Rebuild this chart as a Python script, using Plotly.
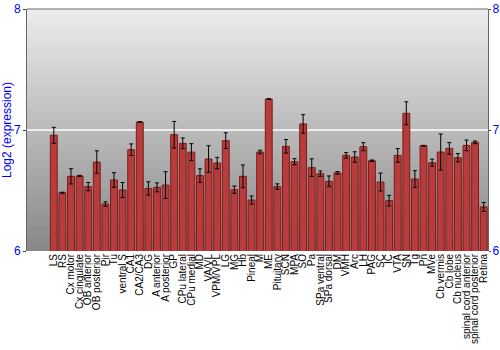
import plotly.graph_objects as go

categories = ["LS", "RS", "Cx motor", "Cx cingulate", "OB anterior", "OB posterior", "Pir", "Tu",
              "ventral S", "CA1", "CA2/CA3", "DG", "A anterior", "A posterior", "GP", "CPu lateral",
              "CPu medial", "MD", "VA/VL", "VPM/VPL", "LG", "MG", "Hb", "Pineal", "M", "ME",
              "Pituitary", "SCN", "MPA", "SO", "Pa", "SPa ventral", "SPa dorsal", "DM", "VMH", "Arc",
              "LH", "PAG", "SC", "IC", "VTA", "SN", "Tg", "Pn", "MVe", "Cb vermis", "Cb lobe",
              "Cb nucleus", "spinal cord anterior", "spinal cord posterior", "Retina"]

values = [6.956, 6.482, 6.617, 6.620, 6.532, 6.735, 6.388, 6.587,
          6.504, 6.837, 7.066, 6.517, 6.526, 6.545, 6.961, 6.890,
          6.817, 6.623, 6.760, 6.727, 6.912, 6.507, 6.617, 6.421, 6.818, 7.256,
          6.532, 6.865, 6.738, 7.050, 6.689, 6.639, 6.576, 6.646, 6.790, 6.777,
          6.862, 6.746, 6.570, 6.416, 6.790, 7.138, 6.595, 6.870, 6.730, 6.818, 6.848,
          6.771, 6.873, 6.898, 6.364]

errors = [0.066, 0.004, 0.063, 0.005, 0.034, 0.093, 0.018, 0.060,
          0.062, 0.048, 0.003, 0.055, 0.037, 0.110, 0.110, 0.044,
          0.070, 0.056, 0.110, 0.047, 0.065, 0.030, 0.094, 0.034, 0.015, 0.003,
          0.023, 0.056, 0.025, 0.077, 0.073, 0.022, 0.044, 0.011, 0.023, 0.043,
          0.033, 0.006, 0.074, 0.044, 0.056, 0.095, 0.069, 0.003, 0.029, 0.149, 0.048,
          0.034, 0.044, 0.011, 0.037]

y_ticks = [6, 7, 8]
y_range = [6, 8]

fig = go.Figure()
fig.add_trace(go.Bar(
    x=categories, y=values,
    marker=dict(color="#b83c3c", line=dict(color="#7a1c1c", width=1)),
    error_y=dict(type="data", array=errors, color="black", thickness=1, width=2),
    showlegend=False, hoverinfo="skip",
))
# invisible trace for right axis labels
fig.add_trace(go.Scatter(x=categories[:1], y=[None], yaxis="y2", showlegend=False,
                         hoverinfo="skip", mode="markers"))

# gradient background bands
n = 120
shapes = []
top = (236, 236, 236)
bot = (136, 136, 136)
for i in range(n):
    t = i / (n - 1)
    c = tuple(int(round(top[k] + (bot[k] - top[k]) * t)) for k in range(3))
    shapes.append(dict(type="rect", xref="x domain", yref="y domain",
                       x0=0, x1=1, y0=max(0, 1 - (i + 1.6) / n), y1=1 - i / n,
                       fillcolor="rgb(%d,%d,%d)" % c, line=dict(width=0), layer="below"))
# white gridline at 7
shapes.append(dict(type="line", xref="x domain", yref="y", x0=0, x1=1, y0=7, y1=7,
                   line=dict(color="white", width=1.5), layer="below"))
# top border
shapes.append(dict(type="line", xref="x domain", yref="y domain", x0=0, x1=1, y0=1, y1=1,
                   line=dict(color="#666666", width=1)))

fig.update_layout(
    width=500, height=350,
    margin=dict(l=27, r=12, t=9, b=99),
    paper_bgcolor="white", plot_bgcolor="white",
    bargap=0.2,
    shapes=shapes,
    font=dict(family="Liberation Sans, Arial, sans-serif", size=10, color="black"),
    xaxis=dict(tickangle=-90, showgrid=False, ticks="", showline=False,
               tickmode="array", tickvals=categories, ticktext=categories,
               tickfont=dict(size=10, color="black"), automargin=False),
    yaxis=dict(range=y_range, tickvals=y_ticks, ticks="outside", ticklen=3,
               tickcolor="#444444", showline=True, linecolor="#666666",
               showgrid=False, zeroline=False,
               tickfont=dict(size=12, color="blue"),
               title=dict(text="Log2 (expression)", font=dict(size=12, color="blue"), standoff=2),
               automargin=False),
    yaxis2=dict(range=y_range, tickvals=y_ticks, overlaying="y", side="right",
                ticks="outside", ticklen=2, tickcolor="#444444", showline=True,
                linecolor="#666666", showgrid=False, zeroline=False,
                ticklabelstandoff=-1,
                tickfont=dict(size=12, color="blue"), automargin=False),
)

fig.write_html("out.html")
